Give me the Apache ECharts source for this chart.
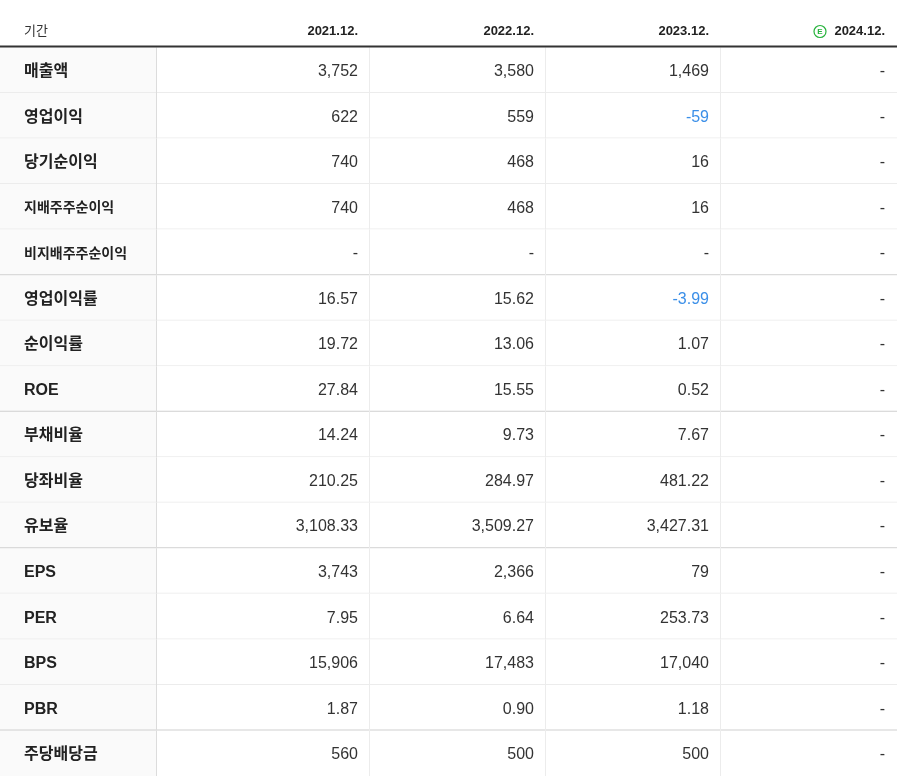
<!DOCTYPE html>
<html><head><meta charset="utf-8">
<script src="https://cdn.jsdelivr.net/npm/echarts@6/dist/echarts.min.js"></script>
<style>html,body{margin:0;padding:0;background:#fff}#main{width:897px;height:776px}</style>
</head><body><div id="main"></div>
<script>
var periods = ['2021.12.', '2022.12.', '2023.12.', '2024.12.'];
var rowNames = ['매출액', '영업이익', '당기순이익', '지배주주순이익', '비지배주주순이익',
  '영업이익률', '순이익률', 'ROE', '부채비율', '당좌비율', '유보율',
  'EPS', 'PER', 'BPS', 'PBR', '주당배당금'];
var values = [
  ['3,752', '3,580', '1,469', '-'],
  ['622', '559', '-59', '-'],
  ['740', '468', '16', '-'],
  ['740', '468', '16', '-'],
  ['-', '-', '-', '-'],
  ['16.57', '15.62', '-3.99', '-'],
  ['19.72', '13.06', '1.07', '-'],
  ['27.84', '15.55', '0.52', '-'],
  ['14.24', '9.73', '7.67', '-'],
  ['210.25', '284.97', '481.22', '-'],
  ['3,108.33', '3,509.27', '3,427.31', '-'],
  ['3,743', '2,366', '79', '-'],
  ['7.95', '6.64', '253.73', '-'],
  ['15,906', '17,483', '17,040', '-'],
  ['1.87', '0.90', '1.18', '-'],
  ['560', '500', '500', '-']
];
var groupEnds = [4, 7, 10, 14];

// layout (pixels in axis space)
var colEdges = [0, 157, 370, 546, 721, 897];
var headerH = 47.5, rowH = 45.53;
function rowTop(r) { return headerH + r * rowH; }

var cells = [];
rowNames.forEach(function (n, r) {
  cells.push([0, r, n]);
  values[r].forEach(function (v, c) { cells.push([c + 1, r, v]); });
});
var headers = [[0, -1, '기간']];
periods.forEach(function (p, c) { headers.push([c + 1, -1, p]); });

var chart = echarts.init(document.getElementById('main'));

function renderCell(params, api) {
  var c = api.value(0), r = api.value(1), txt = api.value(2);
  var x0 = api.coord([colEdges[c], 0])[0], x1 = api.coord([colEdges[c + 1], 0])[0];
  var kids = [];
  if (r < 0) {
    var yb = api.coord([0, headerH])[1];
    var ty = yb - 17;
    if (c === 0) {
      kids.push({ type: 'text', style: { x: x0 + 24, y: ty, text: txt, fill: '#333', font: '13px "Noto Sans CJK KR"', verticalAlign: 'middle' } });
    } else {
      kids.push({ type: 'text', style: { x: x1 - 12, y: ty + 1, text: txt, fill: '#222', font: 'bold 13px "Liberation Sans"', align: 'right', verticalAlign: 'middle' } });
      if (c === 4) {
        kids.push({ type: 'circle', shape: { cx: x1 - 77, cy: ty + 1, r: 6 }, style: { fill: '#fff', stroke: '#27b33c', lineWidth: 1.2 } });
        kids.push({ type: 'text', style: { x: x1 - 77, y: ty + 1.5, text: 'E', fill: '#27b33c', font: 'bold 8px "Liberation Sans"', align: 'center', verticalAlign: 'middle' } });
      }
      if (c === 1) {
        kids.push({ type: 'rect', shape: { x: 0, y: yb - 2, width: api.getWidth(), height: 2 }, style: { fill: '#333' } });
      }
    }
    return { type: 'group', children: kids };
  }
  var y0 = api.coord([0, rowTop(r)])[1], y1 = api.coord([0, rowTop(r + 1)])[1];
  var cy = (y0 + y1) / 2 + 1.5;
  kids.push({ type: 'rect', shape: { x: x0, y: y0, width: x1 - x0, height: y1 - y0 }, style: { fill: c === 0 ? '#fafafa' : '#fff' } });
  var sep = groupEnds.indexOf(r) >= 0;
  if (r < rowNames.length - 1) {
    kids.push({ type: 'rect', shape: { x: x0, y: y1 - 1, width: x1 - x0, height: sep ? 1.5 : 1 }, style: { fill: sep ? '#cfcfcf' : '#ececec' } });
  }
  if (c < 4) {
    kids.push({ type: 'rect', shape: { x: x1 - 1, y: y0, width: 1, height: y1 - y0 }, style: { fill: c === 0 ? '#dcdcdc' : '#ececec' } });
  }
  if (c === 0) {
    var small = txt.length > 6;
    kids.push({ type: 'text', style: { x: x0 + 24, y: cy, text: txt, fill: '#222', font: 'bold ' + (small ? '14px' : '16px') + ' "Liberation Sans", "Noto Sans CJK KR"', verticalAlign: 'middle' } });
  } else {
    var neg = txt.charAt(0) === '-' && txt.length > 1;
    kids.push({ type: 'text', style: { x: x1 - 12, y: cy, text: txt, fill: neg ? '#3b8fe8' : '#333', font: '16px "Liberation Sans"', align: 'right', verticalAlign: 'middle' } });
  }
  return { type: 'group', children: kids };
}

chart.setOption({
  animation: false,
  grid: { left: 0, right: 0, top: 0, bottom: 0 },
  xAxis: { type: 'value', min: 0, max: 897, show: false },
  yAxis: { type: 'value', min: 0, max: 776, inverse: true, show: false },
  series: [
    { type: 'custom', renderItem: renderCell, data: cells, encode: { x: 0, y: 1 }, clip: false },
    { type: 'custom', renderItem: renderCell, data: headers, encode: { x: 0, y: 1 }, clip: false }
  ]
});
</script></body></html>
